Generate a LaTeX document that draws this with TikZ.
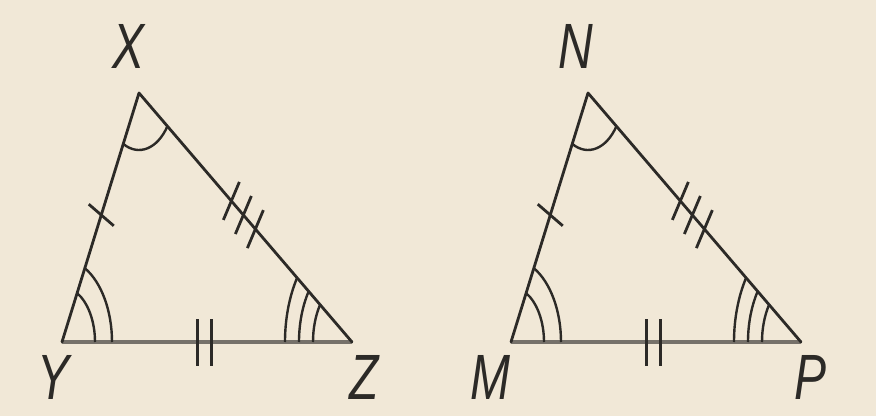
\documentclass[tikz,border=0pt]{standalone}
\usepackage{fontspec}
\setmainfont{Liberation Sans}
\usepackage{graphicx}
\usepackage{tikz}
\usetikzlibrary{calc}

\definecolor{paper}{HTML}{F1E8D7}
\definecolor{ink}{HTML}{2C2A27}
\definecolor{baseink}{HTML}{76716A}

\newcommand{\vlab}[1]{\scalebox{0.75}[1]{#1}}

\begin{document}
\begin{tikzpicture}[x=1pt, y=1pt,
  side/.style={ink, line width=2.8pt, line cap=round, line join=round},
  baseline/.style={baseink, line width=4.5pt},
  anglemark/.style={ink, line width=2.4pt},
  tickmark/.style={ink, line width=2.8pt},
  vlabel/.style={font=\fontsize{64}{64}\selectfont\itshape, text=ink, inner sep=0pt}
]
  % background
  \fill[paper] (0,0) rectangle (876,416);
  \useasboundingbox (0,0) rectangle (876,416);

  % left triangle XYZ
  \coordinate (X) at (139,323);
  \coordinate (Y) at (62,74);
  \coordinate (Z) at (352,74);
  \draw[baseline] (Y) -- (Z);
  \draw[side] (Y) -- (X) -- (Z);
  % angles
  \draw[anglemark] (X) ++(243.3:35 and 57) arc[start angle=243.3, end angle=324.3, x radius=35, y radius=57];
  \draw[anglemark] (Y) ++(33,0) arc[start angle=0, end angle=62.8, x radius=33, y radius=55];
  \draw[anglemark] (Y) ++(50,0) arc[start angle=0, end angle=62.8, x radius=50, y radius=83];
  \draw[anglemark] (Z) ++(-39,0) arc[start angle=180, end angle=145, x radius=39, y radius=65];
  \draw[anglemark] (Z) ++(-53,0) arc[start angle=180, end angle=145, x radius=53, y radius=88];
  \draw[anglemark] (Z) ++(-67,0) arc[start angle=180, end angle=145, x radius=67, y radius=112];
  % sides
  \coordinate (mXY) at ($(Y)!0.51!(X)$);
  \coordinate (mXZ) at ($(X)!0.49!(Z)$);
  \draw[tickmark] ($(mXY)+(-12.5,10.8)$) -- ($(mXY)+(12.5,-10.8)$);
  \foreach \s in {-1,0,1}
    \draw[tickmark] ($(mXZ)+({\s*12},{\s*(-14.1)})+(-8,-19)$) -- ($(mXZ)+({\s*12},{\s*(-14.1)})+(8,19)$);
  \draw[tickmark] ($(Y)+(135.3,-23.5)$) -- ($(Y)+(135.3,23.5)$);
  \draw[tickmark] ($(Y)+(149.3,-23.5)$) -- ($(Y)+(149.3,23.5)$);
  % labels
  \node[vlabel] (lX) at (129,369.5) {\vlab{X}};
  \node[vlabel] (lY) at (54,38.5) {\vlab{Y}};
  \node[vlabel] (lZ) at (364,38.5) {\vlab{Z}};

  % right triangle NMP
  \coordinate (N) at (588,323);
  \coordinate (M) at (511,74);
  \coordinate (P) at (801,74);
  \draw[baseline] (M) -- (P);
  \draw[side] (M) -- (N) -- (P);
  % angles
  \draw[anglemark] (N) ++(243.3:35 and 57) arc[start angle=243.3, end angle=324.3, x radius=35, y radius=57];
  \draw[anglemark] (M) ++(33,0) arc[start angle=0, end angle=62.8, x radius=33, y radius=55];
  \draw[anglemark] (M) ++(50,0) arc[start angle=0, end angle=62.8, x radius=50, y radius=83];
  \draw[anglemark] (P) ++(-39,0) arc[start angle=180, end angle=145, x radius=39, y radius=65];
  \draw[anglemark] (P) ++(-53,0) arc[start angle=180, end angle=145, x radius=53, y radius=88];
  \draw[anglemark] (P) ++(-67,0) arc[start angle=180, end angle=145, x radius=67, y radius=112];
  % sides
  \coordinate (mNM) at ($(M)!0.51!(N)$);
  \coordinate (mNP) at ($(N)!0.49!(P)$);
  \draw[tickmark] ($(mNM)+(-12.5,10.8)$) -- ($(mNM)+(12.5,-10.8)$);
  \foreach \s in {-1,0,1}
    \draw[tickmark] ($(mNP)+({\s*12},{\s*(-14.1)})+(-8,-19)$) -- ($(mNP)+({\s*12},{\s*(-14.1)})+(8,19)$);
  \draw[tickmark] ($(M)+(135.3,-23.5)$) -- ($(M)+(135.3,23.5)$);
  \draw[tickmark] ($(M)+(149.3,-23.5)$) -- ($(M)+(149.3,23.5)$);
  % labels
  \node[vlabel] (lN) at (576,369.5) {\vlab{N}};
  \node[vlabel] (lM) at (490,38.5) {\vlab{M}};
  \node[vlabel] (lP) at (811,38.5) {\vlab{P}};
\end{tikzpicture}
\end{document}
